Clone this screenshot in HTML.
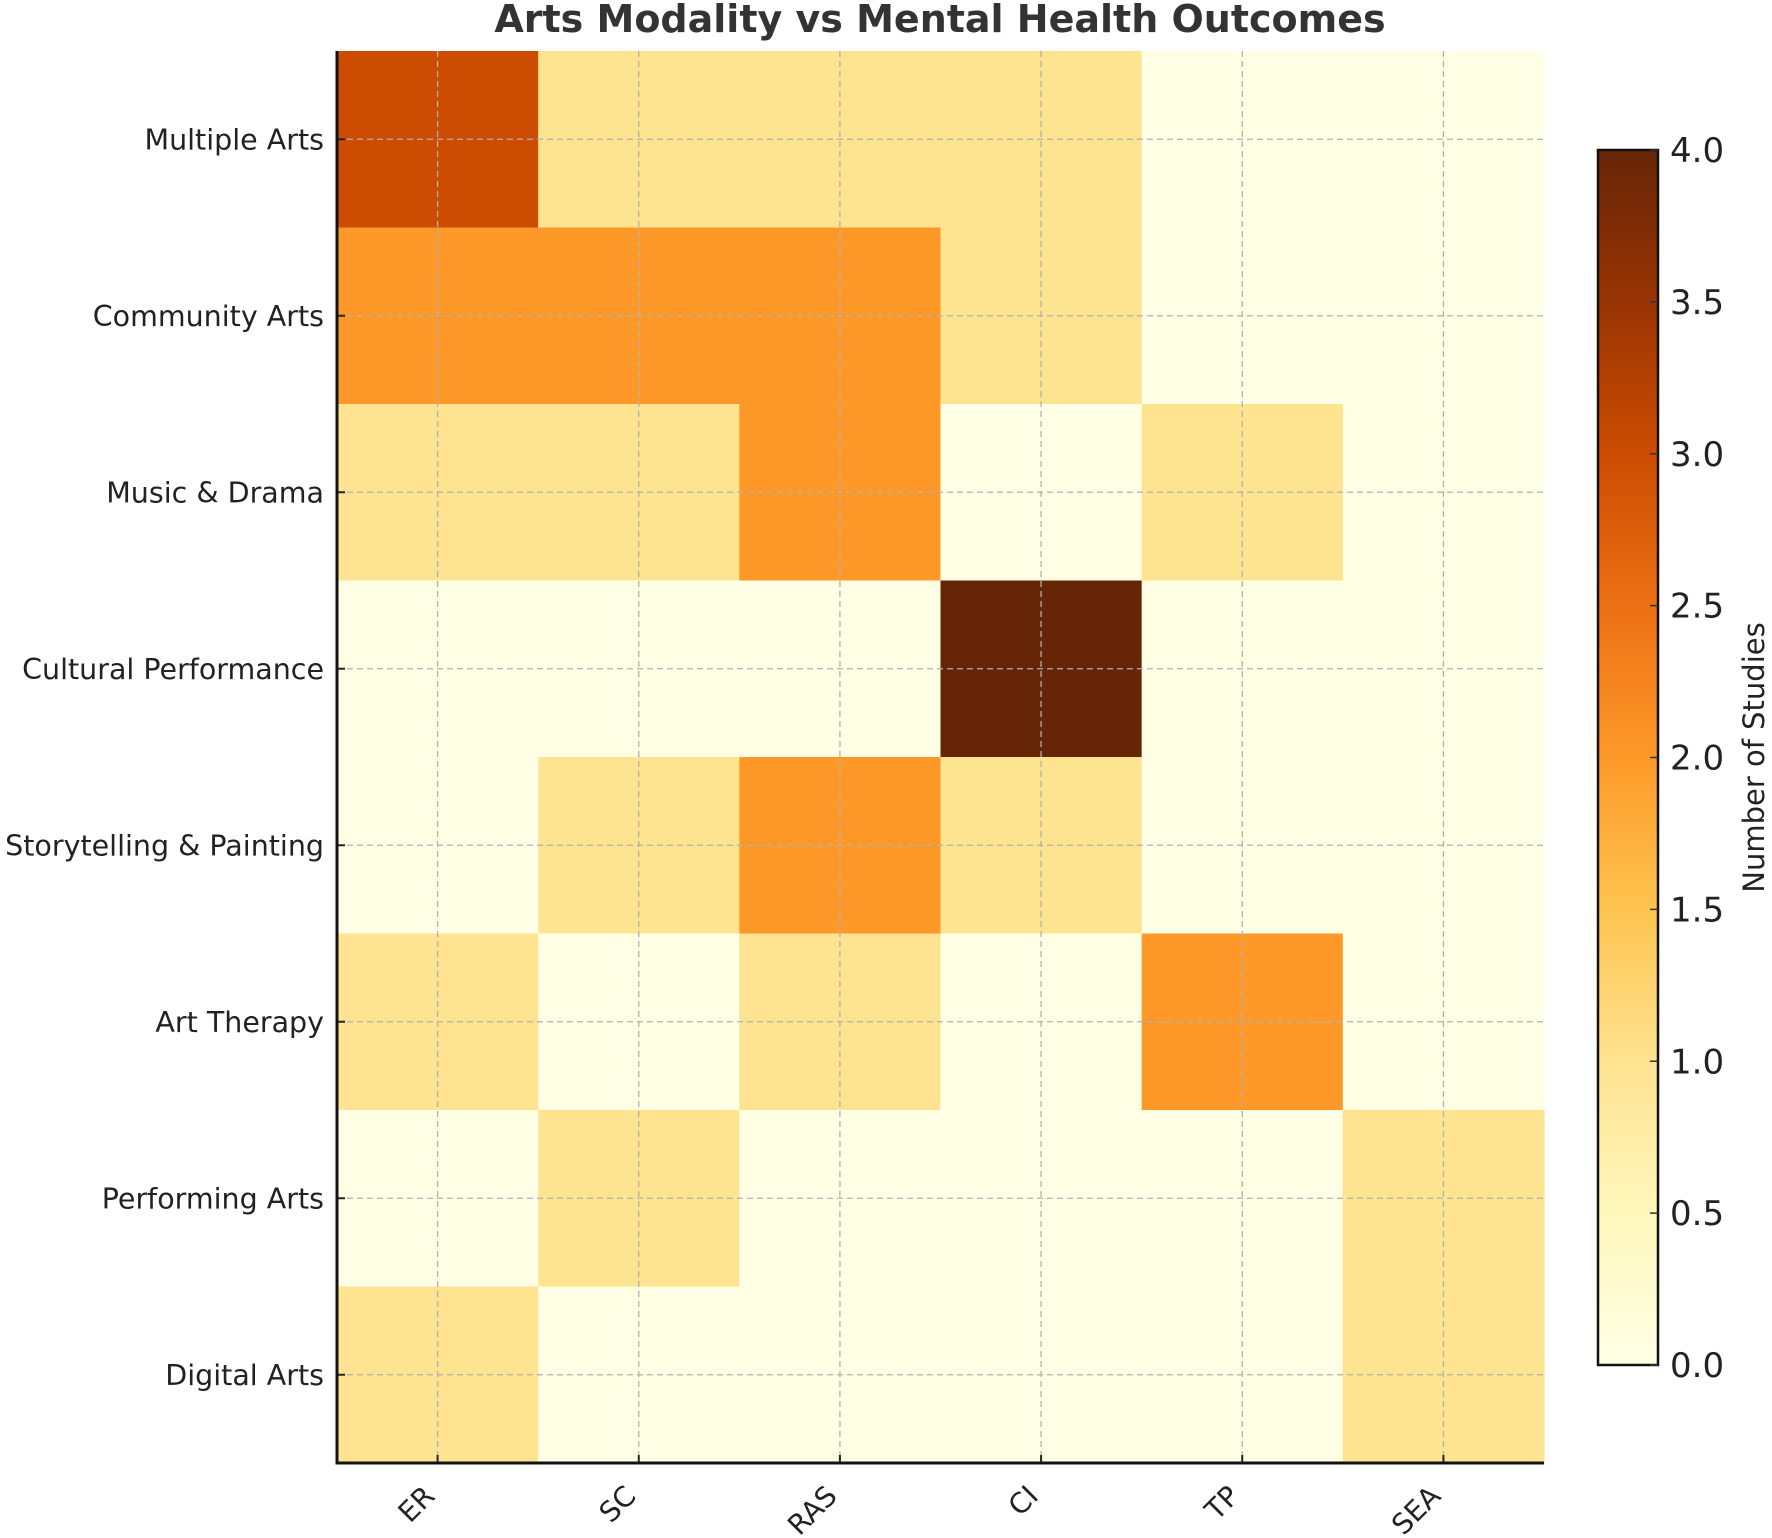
<!DOCTYPE html>
<html><head><meta charset="utf-8"><style>
body{margin:0;background:#fff;}
svg{display:block;font-family:"DejaVu Sans","Liberation Sans",sans-serif;}
</style></head><body>
<svg id="chart" width="1772" height="1538" viewBox="0 0 1772 1538">
<defs>
<linearGradient id="cbg" x1="0" y1="1" x2="0" y2="0">
<stop offset="0" stop-color="#ffffe5"/><stop offset="0.125" stop-color="#fff7bc"/><stop offset="0.25" stop-color="#fee391"/><stop offset="0.375" stop-color="#fec44f"/><stop offset="0.5" stop-color="#fe9929"/><stop offset="0.625" stop-color="#ec7014"/><stop offset="0.75" stop-color="#cc4c02"/><stop offset="0.875" stop-color="#993404"/><stop offset="1" stop-color="#662506"/>
</linearGradient>
</defs>
<text x="940" y="32" text-anchor="middle" font-size="38" font-weight="bold" fill="#333">Arts Modality vs Mental Health Outcomes</text>
<g id="cells"></g>
<g id="grid"></g>
<g id="axes"></g>
<g id="cbar"></g>
</svg>
<script>
const rows = ["Multiple Arts","Community Arts","Music & Drama","Cultural Performance","Storytelling & Painting","Art Therapy","Performing Arts","Digital Arts"];
const cols = ["ER","SC","RAS","CI","TP","SEA"];
const values = [
 [3,1,1,1,0,0],
 [2,2,2,1,0,0],
 [1,1,2,0,1,0],
 [0,0,0,4,0,0],
 [0,1,2,1,0,0],
 [1,0,1,0,2,0],
 [0,1,0,0,0,1],
 [1,0,0,0,0,1]
];
const cbTicks = [0,0.5,1,1.5,2,2.5,3,3.5,4];
const cbTickLabels = ["0.0","0.5","1.0","1.5","2.0","2.5","3.0","3.5","4.0"];

const NS="http://www.w3.org/2000/svg";
const L=337,R=1544,T=51,B=1463;
const cw=(R-L)/cols.length, rh=(B-T)/rows.length;
const xPos=i=>L+i*cw, yPos=j=>T+j*rh;
const vmin=0,vmax=4;
const stops=[[0,[255,255,229]],[.125,[255,247,188]],[.25,[254,227,145]],[.375,[254,196,79]],[.5,[254,153,41]],[.625,[236,112,20]],[.75,[204,76,2]],[.875,[153,52,4]],[1,[102,37,6]]];
function color(v){let t=(v-vmin)/(vmax-vmin);t=Math.max(0,Math.min(1,t));
 for(let k=0;k<stops.length-1;k++){const a=stops[k],b=stops[k+1];if(t<=b[0]){const f=(t-a[0])/(b[0]-a[0]);const c=a[1].map((x,i)=>Math.round(x+(b[1][i]-x)*f));return `rgb(${c})`;}}
 return "rgb(102,37,6)";}
function mk(tag,attrs,parent,text){const e=document.createElementNS(NS,tag);for(const k in attrs)e.setAttribute(k,attrs[k]);if(text!==undefined)e.textContent=text;parent.appendChild(e);return e;}
const cells=document.getElementById('cells'),grid=document.getElementById('grid'),axes=document.getElementById('axes'),cbar=document.getElementById('cbar');
values.forEach((row,j)=>row.forEach((v,i)=>{
 const r=mk('rect',{x:xPos(i),y:yPos(j),width:cw+0.6,height:rh+0.6,fill:color(v)},cells);
 
 
}));
cols.forEach((c,i)=>{
 const x=xPos(i)+cw/2;
 mk('line',{x1:x,y1:T,x2:x,y2:B,stroke:'#b0b0b0','stroke-width':1.3,'stroke-dasharray':'6,4'},grid);
 mk('line',{x1:x,y1:B,x2:x,y2:B-8,stroke:'#222','stroke-width':2},axes);
 const lx=x-16, ly=B+20;
 const t=mk('text',{x:lx,y:ly,'font-size':28,fill:'#222','text-anchor':'end',transform:`rotate(-45 ${lx} ${ly})`,'dominant-baseline':'hanging'},axes,c);
 
 
});
rows.forEach((r,j)=>{
 const y=yPos(j)+rh/2;
 mk('line',{x1:L,y1:y,x2:R,y2:y,stroke:'#b0b0b0','stroke-width':1.3,'stroke-dasharray':'6,4'},grid);
 mk('line',{x1:L,y1:y,x2:L+8,y2:y,stroke:'#222','stroke-width':2},axes);
 const t=mk('text',{x:324,y:y+10,'font-size':28.5,fill:'#222','text-anchor':'end'},axes,r);
 
 
});
mk('line',{x1:L,y1:T,x2:L,y2:B+1.5,stroke:'#111','stroke-width':3},axes);
mk('line',{x1:L-1.5,y1:B,x2:R,y2:B,stroke:'#111','stroke-width':3},axes);
const CX=1598,CW=60,CT=150,CB=1365;
const cr=mk('rect',{x:CX,y:CT,width:CW,height:CB-CT,fill:'url(#cbg)',stroke:'#111','stroke-width':2.5},cbar);


cbTicks.forEach((v,k)=>{
 const y=CB-(v-vmin)/(vmax-vmin)*(CB-CT);
 mk('line',{x1:CX+CW-8,y1:y,x2:CX+CW,y2:y,stroke:'#333','stroke-width':1.5},cbar);
 const t=mk('text',{x:CX+CW+12,y:y+12,'font-size':34,fill:'#222'},cbar,cbTickLabels[k]);
 
 
});
const lab=mk('text',{x:1764,y:(CT+CB)/2,'font-size':29,fill:'#222','text-anchor':'middle',transform:`rotate(-90 1764 ${(CT+CB)/2})`},cbar,'Number of Studies');


</script>
</body></html>
